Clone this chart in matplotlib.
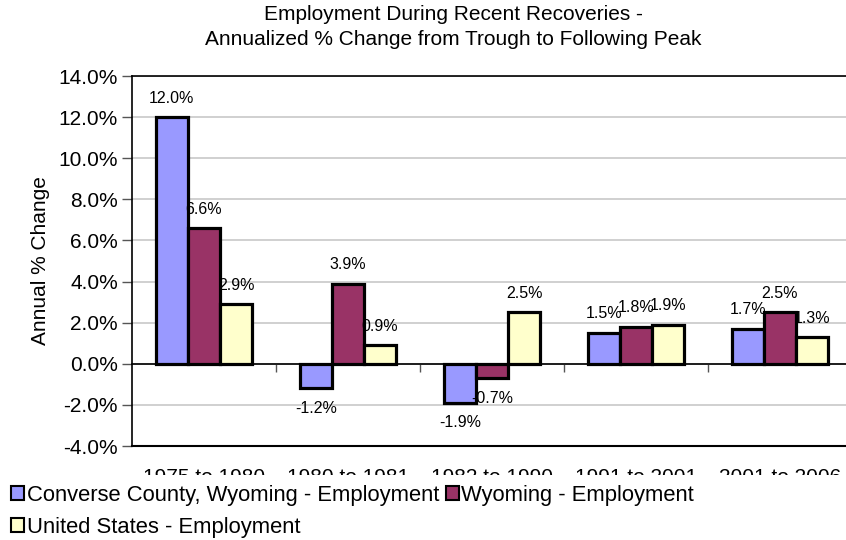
import matplotlib
matplotlib.use("Agg")
import matplotlib.pyplot as plt
from matplotlib.patches import Rectangle
from matplotlib.ticker import FuncFormatter
import numpy as np

plt.rcParams['font.family'] = ['Liberation Sans', 'DejaVu Sans']

categories = ["1975 to 1980", "1980 to 1981", "1982 to 1990", "1991 to 2001", "2001 to 2006"]
series_names = ["Converse County, Wyoming - Employment", "Wyoming - Employment", "United States - Employment"]
converse = [12.0, -1.2, -1.9, 1.5, 1.7]
wyoming = [6.6, 3.9, -0.7, 1.8, 2.5]
us = [2.9, 0.9, 2.5, 1.9, 1.3]
colors = ["#9999FF", "#993366", "#FFFFCC"]
title = "Employment During Recent Recoveries -\nAnnualized % Change from Trough to Following Peak"
ylabel = "Annual % Change"

W, H = 846, 540
fig = plt.figure(figsize=(W / 100, H / 100), dpi=100)
ax = fig.add_axes([132 / W, 1 - 446 / H, (852 - 132) / W, (446 - 76) / H])

x = np.arange(len(categories))
bw = 0.223
data = [converse, wyoming, us]
bars = []
for i, (vals, c, name) in enumerate(zip(data, colors, series_names)):
    b = ax.bar(x + (i - 1) * bw, vals, bw, color=c, edgecolor='black', linewidth=2.3,
               label=name, zorder=3)
    bars.append(b)
    for xi, v in zip(x + (i - 1) * bw, vals):
        off = 19 if v >= 0 else -20
        ax.annotate(f"{v:.1f}%", (xi, v), xytext=(0, off), textcoords='offset pixels',
                    ha='center', va='center', fontsize=11.5, zorder=5)

ax.set_xlim(-0.5, 4.5)
ax.set_ylim(-4, 14)
ax.set_yticks(np.arange(-4, 14.1, 2))
ax.yaxis.set_major_formatter(FuncFormatter(lambda v, p: f"{v:.1f}%"))
ax.tick_params(axis='y', labelsize=15, length=7, width=1, color='#555555', pad=3)
ax.yaxis.grid(True, color='#C8C8C8', linewidth=1.2, zorder=0)
ax.set_axisbelow(True)

# category boundary ticks on zero line
ax.spines['bottom'].set_position(('data', 0))
ax.spines['bottom'].set_linewidth(1.2)
ax.set_xticks(np.arange(0.5, 4.5, 1))
ax.set_xticklabels([])
ax.tick_params(axis='x', length=6, width=1, color='#555555', direction='out')
ax.spines['right'].set_visible(False)
ax.spines['top'].set_linewidth(1.2)
ax.spines['left'].set_linewidth(1.2)
ax.axhline(-4, color='black', linewidth=1.5, clip_on=False, zorder=4)

for xi, lab in zip(x, categories):
    ax.text(xi, -0.0595, lab, transform=ax.get_xaxis_transform(), ha='center', va='top',
            fontsize=15, clip_on=False)

ax.set_ylabel(ylabel, fontsize=15, labelpad=6)
fig.text(453 / W, 1 - 27 / H, title, ha='center', va='center', fontsize=15, linespacing=1.45)

fig.add_artist(Rectangle((0, 0), 1, (H - 475) / H, transform=fig.transFigure,
                         facecolor='white', edgecolor='none', zorder=3))

handles = [bars[0], bars[2], bars[1]]
labels = [series_names[0], series_names[2], series_names[1]]
leg = fig.legend(handles, labels, ncol=2, loc='upper left', bbox_to_anchor=(2 / W, 1 - 476 / H),
                 frameon=False, fontsize=15.8, handlelength=0.6, handleheight=0.6,
                 handletextpad=0.12, columnspacing=0.3, labelspacing=0.5, borderaxespad=0)
leg.set_zorder(6)
for h in leg.legend_handles:
    h.set_linewidth(1.5)

fig.savefig("out.png", dpi=100)
